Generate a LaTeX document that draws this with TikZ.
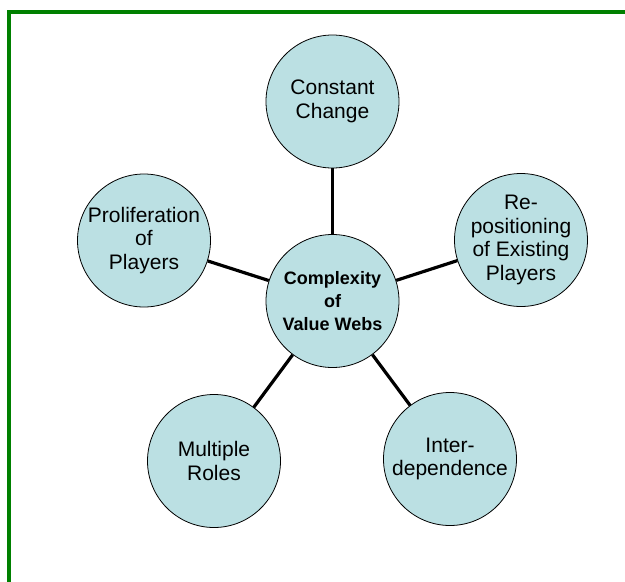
\documentclass[tikz,border=0pt]{standalone}
\usepackage{fontspec}
\setmainfont{Liberation Sans}
\definecolor{webfill}{HTML}{BBE0E3}
\definecolor{frame}{HTML}{008000}
\begin{document}
\begin{tikzpicture}[x=1pt,y=-1pt,
  bubble/.style={circle,draw=black,line width=0.8pt,fill=webfill,
    minimum size=133pt,inner sep=-20pt,align=center,
    font=\fontsize{21}{23.5}\selectfont},
  hub/.style={bubble,font=\fontsize{18}{23}\selectfont\bfseries},
  spoke/.style={line width=3.2pt,draw=black}]
  \useasboundingbox (0,0) rectangle (625,582);
  \clip (0,0) rectangle (625,582);
  % frame (only its top and left sides fall inside the page)
  \draw[frame,line width=4pt] (9,640) -- (9,12) -- (680,12);
  % hub and satellites on a regular pentagon
  \node[hub]    (hub)   at (332.5,301)   {Complexity\\of\\Value Webs};
  \node[bubble] (top)   at (332.5,101.5) {Constant\\Change};
  \node[bubble] (right) at (521,240)     {Re-\\positioning\\of Existing\\Players};
  \node[bubble] (left)  at (144,240.5)   {Proliferation\\of\\Players};
  \node[bubble] (bl)    at (214,461)     {Multiple\\Roles};
  \node[bubble] (br)    at (450,459)     {Inter-\\dependence};
  % spokes
  \foreach \n in {top,right,left,bl,br}
    \draw[spoke] (hub) -- (\n);
\end{tikzpicture}
\end{document}
